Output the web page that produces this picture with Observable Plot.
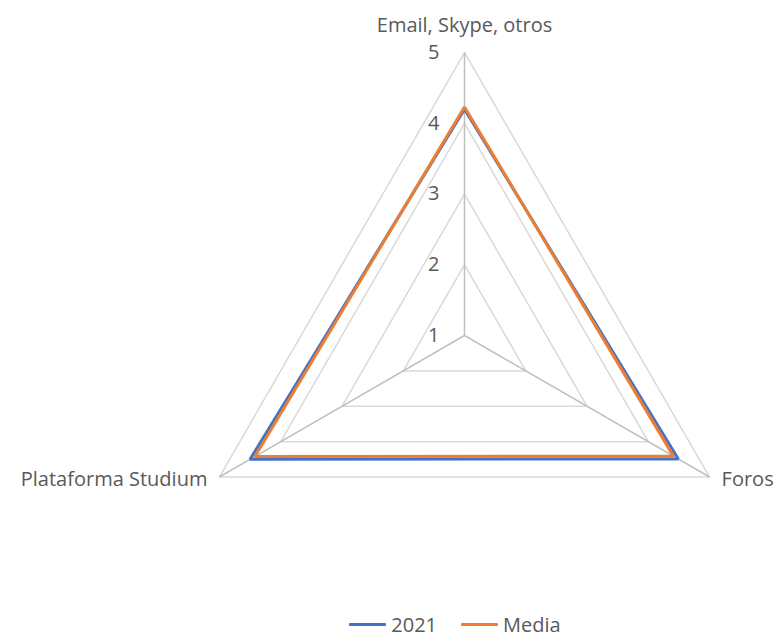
<!DOCTYPE html>
<html>
<head>
<meta charset="utf-8">
<script src="https://cdn.jsdelivr.net/npm/d3@7"></script>
<script src="https://cdn.jsdelivr.net/npm/@observablehq/plot@0.6"></script>
<style>
  body { margin: 0; background: #fff; font-family: "Open Sans", sans-serif; }
  #chart svg { display: block; }
  .legend { display: flex; justify-content: center; align-items: center; padding-left: 132px; height: 29px; width: 646px; color: #595959; font-size: 20px; }
  .legend .item { display: flex; align-items: center; margin: 0 12px; }
  .legend .swatch { width: 37px; height: 3px; margin-right: 5px; border-radius: 1px; }
</style>
</head>
<body>
<div id="chart"></div>
<div class="legend" id="legend"></div>
<script>
const categories = ["Email, Skype, otros", "Foros", "Plataforma Studium"];
const seriesNames = ["2021", "Media"];
const values2021 = [4.2, 4.49, 4.5];
const valuesMedia = [4.23, 4.41, 4.42];
const tickLevels = [1, 2, 3, 4, 5];
const colors = ["#4472C4", "#ED7D31"];

const axisMin = 1, axisMax = 5;
const W = 778, H = 610;
const cx = 464, cy = 335, unit = 70.75; // chart frame layout

function polar(i, v) {
  const a = (2 * Math.PI * i) / categories.length;
  const r = v - axisMin;
  return { x: r * Math.sin(a), y: r * Math.cos(a) };
}

const rings = [];
tickLevels.filter(l => l > axisMin).forEach(l => {
  categories.forEach((c, i) => rings.push({ level: l, ...polar(i, l) }));
});
const spokes = categories.map((c, i) => ({ x1: 0, y1: 0, x2: polar(i, axisMax).x, y2: polar(i, axisMax).y }));
const seriesPts = [];
[values2021, valuesMedia].forEach((vals, s) => {
  vals.forEach((v, i) => seriesPts.push({ series: seriesNames[s], ...polar(i, v) }));
});
const ticks = tickLevels.map(l => ({ label: String(l), x: 0, y: l - axisMin }));
const labels = categories.map((c, i) => ({ label: c, ...polar(i, axisMax), i }));

const fs = 20;
const plot = Plot.plot({
  width: W, height: H, margin: 0,
  x: { domain: [-cx / unit, (W - cx) / unit], range: [0, W], axis: null },
  y: { domain: [cy / unit, (cy - H) / unit], range: [0, H], axis: null },
  color: { domain: seriesNames, range: colors },
  style: { fontFamily: "'Open Sans', sans-serif" },
  marks: [
    Plot.line(rings, { x: "x", y: "y", z: "level", curve: "linear-closed", stroke: "#d9d9d9", strokeWidth: 1.5 }),
    Plot.link(spokes, { x1: "x1", y1: "y1", x2: "x2", y2: "y2", stroke: "#c0c0c0", strokeWidth: 1.5 }),
    Plot.line(seriesPts, { x: "x", y: "y", z: "series", stroke: "series", curve: "linear-closed", strokeWidth: 3, strokeLinejoin: "miter" }),
    Plot.text(ticks, { x: "x", y: "y", text: "label", dx: -25, textAnchor: "end", fill: "#595959", fontSize: fs }),
    Plot.text(labels.filter(d => d.i === 0), { x: "x", y: "y", text: "label", dy: -27, textAnchor: "middle", fill: "#595959", fontSize: fs }),
    Plot.text(labels.filter(d => d.i === 1), { x: "x", y: "y", text: "label", dx: 12, dy: 3, textAnchor: "start", fill: "#595959", fontSize: fs }),
    Plot.text(labels.filter(d => d.i === 2), { x: "x", y: "y", text: "label", dx: -12, dy: 3, textAnchor: "end", fill: "#595959", fontSize: fs })
  ]
});
document.getElementById("chart").appendChild(plot);

const legend = document.getElementById("legend");
seriesNames.forEach((n, i) => {
  const item = document.createElement("div");
  item.className = "item";
  const sw = document.createElement("div");
  sw.className = "swatch";
  sw.style.background = colors[i];
  const t = document.createElement("span");
  t.textContent = n;
  item.appendChild(sw); item.appendChild(t);
  legend.appendChild(item);
});
</script>
</body>
</html>
